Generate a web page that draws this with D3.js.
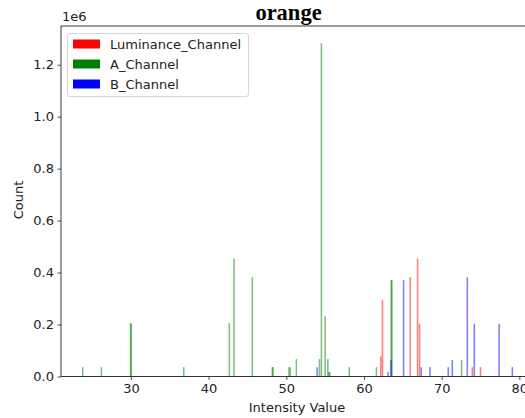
<!DOCTYPE html>
<html><head><meta charset="utf-8">
<script src="https://cdn.jsdelivr.net/npm/d3@7"></script>
<style>body{margin:0;background:#fff}svg{display:block}</style>
</head><body><svg id="c" width="525" height="418" font-family="DejaVu Sans, sans-serif"></svg>
<script>
const seriesNames = ["Luminance_Channel", "A_Channel", "B_Channel"];
const seriesColors = ["#ff0000", "#008000", "#0000ff"];
const lumBins = [62.17, 62.38, 65.95, 66.9, 67.15, 73.94, 75.0];
const lumCounts = [77000, 295000, 382000, 454000, 203000, 36000, 36000];
const aBins = [23.8, 26.2, 29.95, 30.05, 36.8, 42.67, 43.27, 45.63, 48.2, 48.3, 50.35, 50.5, 51.3, 54.27, 54.52, 55.0, 55.35, 55.5, 55.6, 58.1, 61.6, 63.5, 63.6, 72.57];
const aCounts = [36000, 36000, 205000, 205000, 36000, 205000, 454000, 382000, 36000, 36000, 36000, 36000, 67000, 67000, 1283000, 232000, 67000, 17000, 17000, 36000, 36000, 371000, 371000, 64000];
const bBins = [53.97, 63.1, 63.47, 65.1, 67.37, 68.5, 70.85, 71.37, 73.3, 74.2, 77.4, 79.1];
const bCounts = [36000, 18000, 64000, 371000, 36000, 36000, 36000, 64000, 382000, 203000, 203000, 36000];
const xTicks = [30, 40, 50, 60, 70, 80];
const yTicks = [0, 200000, 400000, 600000, 800000, 1000000, 1200000];
const titleText = "orange";
const xLabel = "Intensity Value";
const yLabel = "Count";

const L = 61, R = 531, T = 26, B = 376.5;
const binW = 0.2;
const svg = d3.select("#c");
const x = d3.scaleLinear().domain([21, 81.5]).range([L, R]);
const y = d3.scaleLinear().domain([0, 1349000]).range([B, T]);

svg.append("clipPath").attr("id", "clip").append("rect")
  .attr("x", L).attr("y", T).attr("width", R - L).attr("height", B - T);

const series = [
  {bins: lumBins, counts: lumCounts},
  {bins: aBins, counts: aCounts},
  {bins: bBins, counts: bCounts}
];
const plot = svg.append("g").attr("clip-path", "url(#clip)");
series.forEach((s, i) => {
  plot.append("g").selectAll("rect")
    .data(s.bins.map((b, j) => ({b, c: s.counts[j]})))
    .join("rect")
    .attr("x", d => x(d.b - binW / 2))
    .attr("width", d => x(d.b + binW / 2) - x(d.b - binW / 2))
    .attr("y", d => y(d.c))
    .attr("height", d => y(0) - y(d.c))
    .attr("fill", seriesColors[i])
    .attr("fill-opacity", 0.5);
});

// axes
const xAxis = svg.append("g").attr("transform", `translate(0,${B})`)
  .call(d3.axisBottom(x).tickValues(xTicks).tickSize(3.5).tickPadding(3.5).tickFormat(d3.format("d")));
const yAxis = svg.append("g").attr("transform", `translate(${L},0)`)
  .call(d3.axisLeft(y).tickValues(yTicks).tickSize(3.5).tickPadding(3.5).tickFormat(d => (d / 1e6).toFixed(1)));
[xAxis, yAxis].forEach(a => {
  a.select(".domain").remove();
  a.selectAll("line").attr("stroke", "#222").attr("stroke-width", 0.8);
  a.selectAll("text").attr("font-size", 13).attr("fill", "#222").attr("font-family", "DejaVu Sans, sans-serif");
});
// frame
svg.append("rect").attr("x", L).attr("y", T).attr("width", R - L).attr("height", B - T)
  .attr("fill", "none").attr("stroke", "#222").attr("stroke-width", 0.9);

svg.append("text").attr("x", L + 1).attr("y", 21).attr("font-size", 13).attr("fill", "#222").text("1e6");
svg.append("text").attr("x", 288.5).attr("y", 20).attr("text-anchor", "middle")
  .style("font-family", "'Liberation Serif', 'DejaVu Serif', serif").style("font-weight", "bold").attr("font-size", 22.5)
  .attr("fill", "#000").text(titleText);
svg.append("text").attr("x", 297).attr("y", 412).attr("text-anchor", "middle")
  .attr("font-size", 13).attr("fill", "#222").text(xLabel);
svg.append("text").attr("transform", "translate(23,200) rotate(-90)").attr("text-anchor", "middle")
  .attr("font-size", 13).attr("fill", "#222").text(yLabel);

// legend
const lg = svg.append("g");
lg.append("rect").attr("x", 67.5).attr("y", 33.5).attr("width", 181).attr("height", 63).attr("rx", 2.5)
  .attr("fill", "#fff").attr("fill-opacity", 0.8).attr("stroke", "#d0d0d0").attr("stroke-width", 0.9);
seriesNames.forEach((n, i) => {
  const cy = 43.5 + i * 20;
  lg.append("rect").attr("x", 73).attr("y", cy - 4).attr("width", 27).attr("height", 9).attr("fill", seriesColors[i]);
  lg.append("text").attr("x", 110).attr("y", cy + 5).attr("font-size", 13).attr("fill", "#222").text(n);
});
</script></body></html>
